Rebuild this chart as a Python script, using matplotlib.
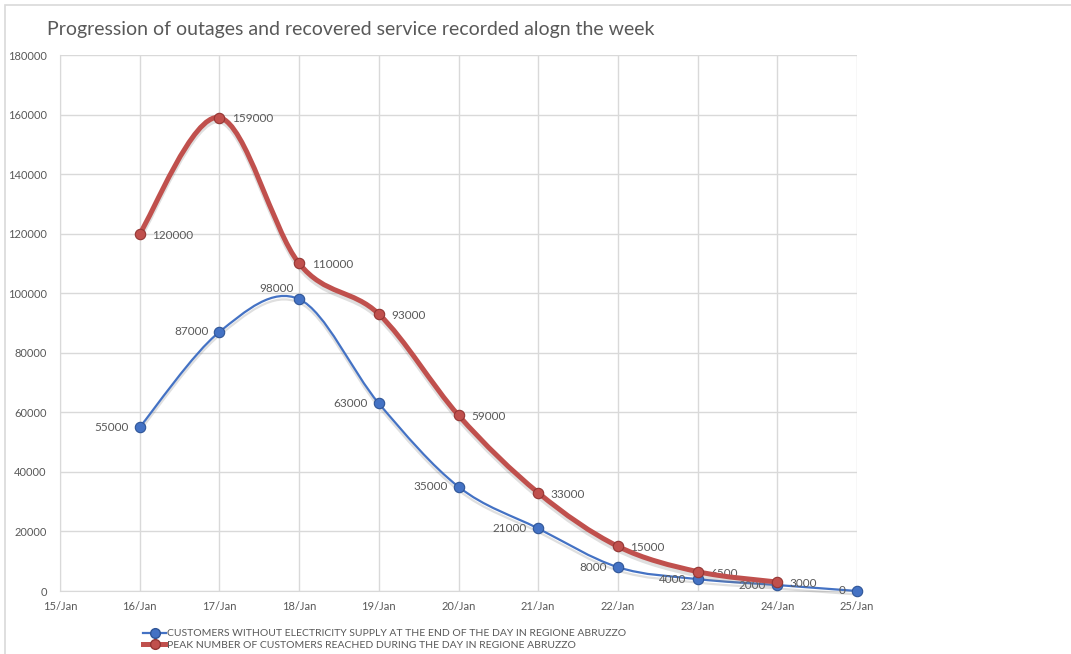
import numpy as np
import matplotlib.pyplot as plt
import matplotlib.patheffects as pe
from matplotlib.path import Path
from matplotlib.patches import PathPatch, Rectangle

plt.rcParams['font.family'] = ['Lato', 'DejaVu Sans']

days = ['15/Jan', '16/Jan', '17/Jan', '18/Jan', '19/Jan', '20/Jan',
        '21/Jan', '22/Jan', '23/Jan', '24/Jan', '25/Jan']
without_supply = [55000, 87000, 98000, 63000, 35000, 21000, 8000, 4000, 2000, 0]
peak_customers = [120000, 159000, 110000, 93000, 59000, 33000, 15000, 6500, 3000]

blue = '#4472c4'
red = '#c0504d'
text_col = '#595959'


def smooth_path(xs, ys):
    # bezier segments through the points, excel-style smoothing
    xs = np.asarray(xs, float)
    ys = np.asarray(ys, float)
    n = len(xs)
    verts = [(xs[0], ys[0])]
    codes = [Path.MOVETO]
    for i in range(n - 1):
        p0 = np.array([xs[max(i - 1, 0)], ys[max(i - 1, 0)]])
        p1 = np.array([xs[i], ys[i]])
        p2 = np.array([xs[i + 1], ys[i + 1]])
        p3 = np.array([xs[min(i + 2, n - 1)], ys[min(i + 2, n - 1)]])
        c1 = p1 + (p2 - p0) / 6
        c2 = p2 - (p3 - p1) / 6
        verts += [tuple(c1), tuple(c2), tuple(p2)]
        codes += [Path.CURVE4] * 3
    return Path(verts, codes)


fig = plt.figure(figsize=(10.71, 6.54), dpi=100)
ax = fig.add_axes([60 / 1071, 63 / 654, 797 / 1071, 536 / 654])

# outer chart frame
fig.patches.append(Rectangle((5 / 1071, -0.1), 1.2, (649 / 654) + 0.1,
                             transform=fig.transFigure, fill=False,
                             edgecolor='#d9d9d9', linewidth=1.2))

x_blue = np.arange(1, 1 + len(without_supply))
x_red = np.arange(1, 1 + len(peak_customers))

shadow = [pe.SimpleLineShadow(offset=(0, -2.5), shadow_color='gray', alpha=0.25), pe.Normal()]

ax.add_patch(PathPatch(smooth_path(x_blue, without_supply), fill=False, clip_on=False,
                       edgecolor=blue, linewidth=1.6, zorder=3, path_effects=shadow))
ax.add_patch(PathPatch(smooth_path(x_red, peak_customers), fill=False,
                       edgecolor=red, linewidth=3.6, zorder=4, path_effects=shadow))

ax.plot(x_blue, without_supply, linestyle='none', marker='o', markersize=7.5, clip_on=False,
        markerfacecolor=blue, markeredgecolor='#2f5597', markeredgewidth=0.8, zorder=5)
ax.plot(x_red, peak_customers, linestyle='none', marker='o', markersize=7.5, clip_on=False,
        markerfacecolor=red, markeredgecolor='#943634', markeredgewidth=0.8, zorder=6)

# data labels
for i, (x, y) in enumerate(zip(x_blue, without_supply)):
    if i == 2:
        ax.annotate(str(y), (x, y), xytext=(-4, 8), textcoords='offset points',
                    ha='right', va='center', fontsize=8.5, color=text_col)
    else:
        ax.annotate(str(y), (x, y), xytext=(-8, 0), textcoords='offset points',
                    ha='right', va='center', fontsize=8.5, color=text_col)
for x, y in zip(x_red, peak_customers):
    ax.annotate(str(y), (x, y), xytext=(9, -1), textcoords='offset points',
                ha='left', va='center', fontsize=8.5, color=text_col)

ax.set_xlim(0, 10)
ax.set_ylim(0, 180000)
ax.set_xticks(range(len(days)))
ax.set_xticklabels(days)
ax.set_yticks(np.arange(0, 180001, 20000))
ax.tick_params(axis='both', length=0, labelsize=8, labelcolor=text_col)
ax.tick_params(axis='y', pad=9.5)
ax.tick_params(axis='x', pad=7)
ax.grid(True, color='#d9d9d9', linewidth=1)
ax.set_axisbelow(True)
for side in ['top', 'right']:
    ax.spines[side].set_visible(False)
for side in ['left', 'bottom']:
    ax.spines[side].set_color('#d9d9d9')

fig.text(47 / 1071, 1 - 29 / 654, 'Progression of outages and recovered service recorded alogn the week',
         fontsize=14, color=text_col, ha='left', va='center')

handles = [
    plt.Line2D([], [], color=blue, linewidth=1.6, marker='o', markersize=7,
               markerfacecolor=blue, markeredgecolor='#2f5597'),
    plt.Line2D([], [], color=red, linewidth=3.6, marker='o', markersize=7,
               markerfacecolor=red, markeredgecolor='#943634'),
]
labels = ['CUSTOMERS WITHOUT ELECTRICITY SUPPLY AT THE END OF THE DAY IN REGIONE ABRUZZO',
          'PEAK NUMBER OF CUSTOMERS REACHED DURING THE DAY IN REGIONE ABRUZZO']
fig.legend(handles, labels, loc='upper left', bbox_to_anchor=(138 / 1071, 1 - 624 / 654),
           frameon=False, fontsize=7.5, labelcolor=text_col, handlelength=2.2,
           handletextpad=0.1, labelspacing=0.2, borderpad=0)

fig.savefig('out.png', dpi=100)
